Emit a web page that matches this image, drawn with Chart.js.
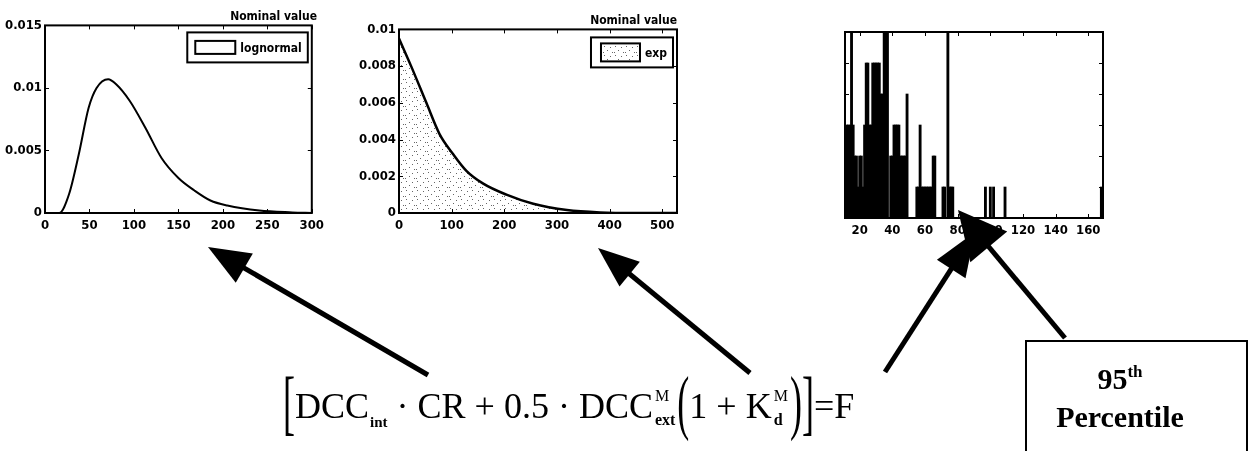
<!DOCTYPE html>
<html>
<head>
<meta charset="utf-8">
<script src="https://cdn.jsdelivr.net/npm/chart.js@4.4.0/dist/chart.umd.min.js"></script>
<style>
  html, body { margin: 0; padding: 0; background: #fff; }
  body { width: 1254px; height: 451px; position: relative; overflow: hidden; }
  canvas { position: absolute; top: 0; }
  #c1 { left: 0; }
  #c2 { left: 350px; }
  #c3 { left: 800px; }
  #arrows { position: absolute; left: 0; top: 0; }
  #eq {
    position: absolute; left: 283px; top: 388px; white-space: nowrap;
    font: 36px 'Liberation Serif', 'Times New Roman', serif; line-height: 36px; color: #000;
  }
  #eq .br { display: inline-block; transform: scale(1, 2.0); transform-origin: 50% 60%; }
  #eq .op { margin: 0 9px; }
  #eq .sb { font-size: 15px; font-weight: bold; vertical-align: -9px; margin-left: 1px; }
  #eq .ss { display: inline-flex; flex-direction: column; font-size: 16px; line-height: 15px; vertical-align: 17px; margin: 0 2px; }
  #eq .ss span:last-child { margin-top: 9px; font-weight: bold; }
  #pbox {
    position: absolute; left: 1025px; top: 340px; width: 223px; height: 130px;
    border: 2px solid #000; box-sizing: border-box;
  }
  .ptxt {
    position: absolute; left: 1120px; transform: translateX(-50%); white-space: nowrap;
    font: bold 30px 'Liberation Serif', 'Times New Roman', serif; line-height: 30px;
  }
  .ptxt sup { font-size: 17px; vertical-align: 12px; line-height: 0; }
</style>
</head>
<body>
<canvas id="c1" width="329" height="240"></canvas>
<canvas id="c2" width="339" height="240"></canvas>
<canvas id="c3" width="315" height="240"></canvas>
<svg id="arrows" width="1254" height="451"></svg>

<div id="eq"><span class="br">[</span>DCC<span class="sb">int</span><span class="op">·</span>CR<span class="op">+</span>0.5<span class="op">·</span>DCC<span class="ss"><span>M</span><span>ext</span></span><span class="br">(</span>1<span class="op">+</span>K<span class="ss"><span>M</span><span>d</span></span><span class="br">)</span><span class="br">]</span>=F</div>

<div id="pbox"></div>
<div class="ptxt" style="top:364px">95<sup>th</sup></div>
<div class="ptxt" style="top:402px">Percentile</div>

<script>
const FONT = "'Liberation Sans Narrow', 'DejaVu Sans Condensed', 'Liberation Sans', sans-serif";

// lognormal density curve
const lognX = [0, 16, 27, 38, 49, 58, 71, 80, 95, 113, 131, 150, 168, 186, 205, 241, 278, 300];
const lognY = [0, 0, 0.0015, 0.0047, 0.0084, 0.0100, 0.0107, 0.0103, 0.0090, 0.0068, 0.0044,
               0.0028, 0.0018, 0.0010, 0.0006, 0.0002, 0.00005, 0];
const lognXTicks = [0, 50, 100, 150, 200, 250, 300];
const lognYTicks = [0, 0.005, 0.01, 0.015];

// exponential density curve
const expX = [0, 23, 52, 77, 103, 128, 160, 204, 255, 319, 382, 450, 528];
const expY = [0.0095, 0.0080, 0.0060, 0.0043, 0.0032, 0.0023, 0.0016, 0.0010, 0.0005,
              0.00016, 0.00003, 0, 0];
const expXTicks = [0, 100, 200, 300, 400, 500];
const expYTicks = [0, 0.002, 0.004, 0.006, 0.008, 0.01];

// histogram of simulated values (bin value -> count)
const histBins = [11, 12, 13, 14, 15, 16, 17, 18, 19, 20, 21, 22, 23, 24, 25, 26, 27, 28, 29, 30,
                  31, 32, 33, 34, 35, 36, 37, 39, 40, 41, 42, 43, 44, 45, 46, 47, 48, 49,
                  55, 56, 57, 58, 59, 60, 61, 62, 63, 64, 65, 66, 71, 72, 74, 75, 76, 77,
                  97, 100, 102, 109, 168];
const histCounts = [1, 3, 3, 3, 6, 3, 2, 2, 1, 2, 2, 1, 3, 5, 5, 3, 3, 5, 5, 5,
                    5, 5, 4, 4, 6, 6, 6, 2, 2, 3, 3, 3, 3, 2, 2, 2, 2, 4,
                    1, 1, 3, 1, 1, 1, 1, 1, 1, 1, 2, 2, 1, 1, 6, 1, 1, 1,
                    1, 1, 1, 1, 1];
const histXTicks = [20, 40, 60, 80, 100, 120, 140, 160];
const histYTicks = [1, 2, 3, 4, 5];

// closed axes box with inward tick marks
const axesBox = {
  id: 'axesBox',
  afterDatasetsDraw(chart) {
    const { ctx, chartArea: a, scales } = chart;
    ctx.save();
    ctx.strokeStyle = '#000';
    ctx.lineWidth = 1;
    ctx.beginPath();
    scales.x.ticks.forEach(t => {
      const p = Math.round(scales.x.getPixelForValue(t.value)) + 0.5;
      ctx.moveTo(p, a.bottom); ctx.lineTo(p, a.bottom - 4);
      ctx.moveTo(p, a.top); ctx.lineTo(p, a.top + 4);
    });
    scales.y.ticks.forEach(t => {
      const p = Math.round(scales.y.getPixelForValue(t.value)) + 0.5;
      ctx.moveTo(a.left, p); ctx.lineTo(a.left + 4, p);
      ctx.moveTo(a.right, p); ctx.lineTo(a.right - 4, p);
    });
    ctx.stroke();
    ctx.lineWidth = 2;
    ctx.strokeRect(a.left, a.top, a.right - a.left, a.bottom - a.top);
    ctx.restore();
  }
};

// boxed legend in the upper right corner
const boxLegend = {
  id: 'boxLegend',
  afterDraw(chart, args, o) {
    if (!o || !o.show) return;
    const { ctx, chartArea: a } = chart;
    const ds = chart.data.datasets[0];
    ctx.save();
    ctx.font = 'bold 12px ' + FONT;
    const tw = ctx.measureText(ds.label).width;
    const w = o.pad + o.sw + o.gap + tw + 6;
    const x = a.right - o.right - w, y = a.top + o.top;
    ctx.fillStyle = '#fff';
    ctx.fillRect(x, y, w, o.h);
    ctx.strokeStyle = '#000';
    ctx.lineWidth = 2;
    ctx.strokeRect(x, y, w, o.h);
    const sx = x + o.pad, sy = y + (o.h - o.sh) / 2;
    if (o.fill) { ctx.fillStyle = ds.backgroundColor; ctx.fillRect(sx, sy, o.sw, o.sh); }
    ctx.strokeRect(sx, sy, o.sw, o.sh);
    ctx.fillStyle = '#000';
    ctx.textBaseline = 'middle';
    ctx.fillText(ds.label, sx + o.sw + o.gap, y + o.h / 2 + 1);
    ctx.restore();
  }
};

function stipple() {
  const c = document.createElement('canvas');
  c.width = 11; c.height = 9;
  const g = c.getContext('2d');
  g.fillStyle = '#666';
  [[1, 1], [7, 2], [4, 5], [9, 7], [0, 7]].forEach(([x, y]) => g.fillRect(x, y, 1, 1));
  return g.createPattern(c, 'repeat');
}

const tickFont = { family: FONT, size: 13, weight: 'bold' };

function axes(xmin, xmax, xt, ymin, ymax, yt, yw, xh, showY) {
  return {
    x: {
      type: 'linear', min: xmin, max: xmax, offset: false,
      afterBuildTicks: s => { s.ticks = xt.map(v => ({ value: v })); },
      afterFit: s => { s.height = xh; },
      grid: { display: false, drawTicks: false, offset: false },
      border: { display: false },
      ticks: { color: '#000', font: tickFont, padding: 5, maxRotation: 0, callback: v => String(v) }
    },
    y: {
      type: 'linear', min: ymin, max: ymax,
      afterBuildTicks: s => { s.ticks = yt.map(v => ({ value: v })); },
      afterFit: s => { s.width = yw; },
      grid: { display: false, drawTicks: false },
      border: { display: false },
      ticks: { display: showY, color: '#000', font: tickFont, padding: 3, callback: v => String(v) }
    }
  };
}

function titleOpt(pTop) {
  return {
    display: true, text: 'Nominal value', align: 'end', color: '#000',
    font: { family: FONT, size: 12, weight: 'bold' },
    padding: { top: pTop, bottom: 1 }
  };
}

new Chart(document.getElementById('c1'), {
  type: 'line',
  data: {
    datasets: [{
      label: 'lognormal',
      data: lognX.map((x, i) => ({ x, y: lognY[i] })),
      borderColor: '#000', borderWidth: 2, pointRadius: 0,
      cubicInterpolationMode: 'monotone', fill: false
    }]
  },
  options: {
    responsive: false, animation: false,
    layout: { padding: { left: 0, right: 12, top: 0, bottom: 0 } },
    scales: axes(0, 300, lognXTicks, 0, 0.015, lognYTicks, 45, 27, true),
    plugins: {
      legend: { display: false }, tooltip: { enabled: false },
      title: titleOpt(10),
      boxLegend: { show: true, right: 4, top: 7, h: 30, pad: 8, sw: 40, sh: 13, gap: 5, fill: false }
    }
  },
  plugins: [axesBox, boxLegend]
});

new Chart(document.getElementById('c2'), {
  type: 'line',
  data: {
    datasets: [{
      label: 'exp',
      data: expX.map((x, i) => ({ x, y: expY[i] })),
      borderColor: '#000', borderWidth: 2.5, pointRadius: 0,
      cubicInterpolationMode: 'monotone',
      fill: 'origin', backgroundColor: stipple()
    }]
  },
  options: {
    responsive: false, animation: false,
    layout: { padding: { left: 0, right: 12, top: 0, bottom: 0 } },
    scales: axes(0, 528, expXTicks, 0, 0.01, expYTicks, 49, 27, true),
    plugins: {
      legend: { display: false }, tooltip: { enabled: false },
      title: titleOpt(14),
      boxLegend: { show: true, right: 4, top: 8, h: 30, pad: 10, sw: 39, sh: 18, gap: 5, fill: true }
    }
  },
  plugins: [axesBox, boxLegend]
});

new Chart(document.getElementById('c3'), {
  type: 'bar',
  data: {
    datasets: [{
      label: 'count',
      data: histBins.map((x, i) => ({ x, y: histCounts[i] })),
      backgroundColor: '#000', borderWidth: 0,
      barThickness: 2.2
    }]
  },
  options: {
    responsive: false, animation: false,
    layout: { padding: { left: 0, right: 12, top: 32, bottom: 0 } },
    scales: axes(11, 169, histXTicks, 0, 6, histYTicks, 45, 22, false),
    plugins: { legend: { display: false }, tooltip: { enabled: false } }
  },
  plugins: [axesBox]
});

// pointer arrows from the formula terms up to the distributions
const svg = document.getElementById('arrows');
const NS = 'http://www.w3.org/2000/svg';
function arrow(x1, y1, x2, y2, L, W, sw) {
  const dx = x2 - x1, dy = y2 - y1, d = Math.hypot(dx, dy);
  const ux = dx / d, uy = dy / d, px = -uy, py = ux;
  const bx = x2 - ux * L, by = y2 - uy * L;
  const line = document.createElementNS(NS, 'line');
  line.setAttribute('x1', x1); line.setAttribute('y1', y1);
  line.setAttribute('x2', bx + ux * 4); line.setAttribute('y2', by + uy * 4);
  line.setAttribute('stroke', '#000'); line.setAttribute('stroke-width', sw);
  svg.appendChild(line);
  const head = document.createElementNS(NS, 'polygon');
  head.setAttribute('points', `${x2},${y2} ${bx + px * W},${by + py * W} ${bx - px * W},${by - py * W}`);
  head.setAttribute('fill', '#000');
  svg.appendChild(head);
}
arrow(428, 375, 208, 247, 42, 17, 5);
arrow(750, 373, 598, 248, 41, 16, 5);
arrow(885, 372, 975, 232, 44, 17, 5);
arrow(1065, 338, 958, 210, 48, 24, 5);
</script>
</body>
</html>
